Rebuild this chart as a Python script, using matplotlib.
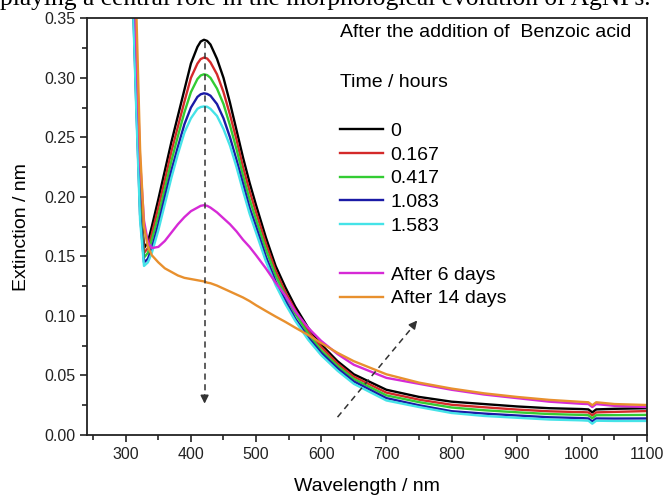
import matplotlib
matplotlib.use("Agg")
import matplotlib.pyplot as plt

plt.rcParams['font.family'] = ['Liberation Sans', 'DejaVu Sans']

# --- data ---
wavelength = [300, 310, 316, 322, 328, 334, 340, 350, 360, 370, 380, 390, 400, 410, 415, 420, 425,
              430, 440, 450, 460, 470, 480, 490, 500, 515, 530, 545, 560, 580, 600, 625,
              650, 700, 750, 800, 850, 900, 950, 1000, 1010, 1016, 1022, 1050, 1100]

ext_0h = [0.60, 0.40, 0.30, 0.205, 0.157, 0.162, 0.175, 0.198, 0.222, 0.246, 0.268, 0.290, 0.312, 0.326, 0.3305, 0.332, 0.331,
          0.328, 0.316, 0.300, 0.279, 0.256, 0.233, 0.212, 0.193, 0.166, 0.142, 0.124, 0.108, 0.090, 0.076, 0.062,
          0.051, 0.038, 0.032, 0.028, 0.026, 0.024, 0.0225, 0.0218, 0.0215, 0.019, 0.0215, 0.022, 0.0225]
ext_0167h = [0.595, 0.395, 0.293, 0.198, 0.153, 0.157, 0.169, 0.191, 0.214, 0.238, 0.259, 0.280, 0.300, 0.312, 0.3158, 0.317, 0.3162,
             0.313, 0.303, 0.288, 0.269, 0.248, 0.225, 0.205, 0.187, 0.161, 0.138, 0.120, 0.105, 0.087, 0.074, 0.060,
             0.049, 0.0356, 0.0297, 0.0254, 0.0233, 0.0214, 0.0199, 0.0192, 0.019, 0.0165, 0.019, 0.0194, 0.0201]
ext_0417h = [0.59, 0.39, 0.287, 0.192, 0.149, 0.153, 0.164, 0.184, 0.207, 0.230, 0.251, 0.271, 0.288, 0.299, 0.302, 0.303, 0.3023,
             0.300, 0.291, 0.278, 0.260, 0.240, 0.218, 0.198, 0.181, 0.156, 0.134, 0.117, 0.102, 0.085, 0.071, 0.058,
             0.047, 0.0333, 0.0276, 0.0231, 0.0208, 0.0191, 0.0176, 0.0169, 0.0166, 0.0141, 0.0166, 0.0167, 0.0169]
ext_1083h = [0.584, 0.384, 0.280, 0.185, 0.145, 0.148, 0.157, 0.177, 0.200, 0.222, 0.242, 0.261, 0.275, 0.284, 0.2862, 0.287, 0.2865,
             0.285, 0.278, 0.266, 0.250, 0.231, 0.211, 0.191, 0.175, 0.150, 0.129, 0.113, 0.098, 0.082, 0.069, 0.056,
             0.045, 0.031, 0.025, 0.020, 0.018, 0.0164, 0.0149, 0.0142, 0.0139, 0.0114, 0.0139, 0.0138, 0.0139]
ext_1583h = [0.58, 0.38, 0.275, 0.18, 0.142, 0.145, 0.153, 0.172, 0.194, 0.216, 0.236, 0.254, 0.266, 0.274, 0.2755, 0.276, 0.2757,
             0.274, 0.268, 0.257, 0.243, 0.225, 0.205, 0.186, 0.170, 0.146, 0.126, 0.110, 0.096, 0.080, 0.067, 0.054,
             0.043, 0.029, 0.0235, 0.0185, 0.016, 0.0145, 0.013, 0.0123, 0.012, 0.0095, 0.012, 0.0118, 0.0118]
ext_6d = [0.62, 0.43, 0.33, 0.23, 0.18, 0.162, 0.157, 0.158, 0.163, 0.170, 0.177, 0.183, 0.188, 0.191, 0.1925, 0.193, 0.1925,
          0.191, 0.187, 0.182, 0.177, 0.171, 0.164, 0.158, 0.151, 0.140, 0.128, 0.117, 0.104, 0.090, 0.079, 0.068,
          0.059, 0.048, 0.043, 0.038, 0.034, 0.031, 0.028, 0.0262, 0.026, 0.0235, 0.026, 0.0245, 0.0235]
ext_14d = [0.65, 0.45, 0.36, 0.24, 0.175, 0.158, 0.151, 0.145, 0.140, 0.137, 0.134, 0.132, 0.131, 0.130, 0.1295, 0.129, 0.128,
           0.1275, 0.1255, 0.123, 0.1205, 0.118, 0.1155, 0.1125, 0.109, 0.1042, 0.0995, 0.095, 0.0902, 0.084, 0.0772, 0.069,
           0.062, 0.051, 0.044, 0.039, 0.035, 0.032, 0.0295, 0.0278, 0.0275, 0.025, 0.0275, 0.026, 0.0252]

hours_labels = ['0', '0.167', '0.417', '1.083', '1.583']
days_labels = ['After 6 days', 'After 14 days']
hours_colors = ['#000000', '#d42a2a', '#33cc33', '#1a1aa6', '#45e3e8']
days_colors = ['#d62ad6', '#e8902e']

# --- figure ---
fig = plt.figure(figsize=(6.66, 4.95), dpi=100)
ax = fig.add_axes([0.1311, 0.1212, 0.8404, 0.8418])

hour_series = [ext_0h, ext_0167h, ext_0417h, ext_1083h, ext_1583h]
hour_lines = []
for ys, c in zip(hour_series, hours_colors):
    ln, = ax.plot(wavelength, ys, color=c, lw=1.7)
    hour_lines.append(ln)
day_lines = []
for ys, c in zip([ext_6d, ext_14d], days_colors):
    ln, = ax.plot(wavelength, ys, color=c, lw=1.7)
    day_lines.append(ln)

ax.set_xlim(241, 1100)
ax.set_ylim(0, 0.35)
ax.set_xticks(range(300, 1101, 100))
ax.set_xticks(range(250, 1100, 100), minor=True)
ax.set_yticks([0, 0.05, 0.10, 0.15, 0.20, 0.25, 0.30, 0.35])
ax.set_yticklabels(['0.00', '0.05', '0.10', '0.15', '0.20', '0.25', '0.30', '0.35'])
ax.set_yticks([0.025, 0.075, 0.125, 0.175, 0.225, 0.275, 0.325], minor=True)
ax.tick_params(which='both', direction='out', colors='#222222', labelsize=11.5, width=1.2)
ax.tick_params(which='major', length=5)
ax.tick_params(which='minor', length=3.5)
for s in ax.spines.values():
    s.set_linewidth(1.3)
    s.set_color('#222222')

ax.set_xlabel('Wavelength / nm', fontsize=14, labelpad=12)
ax.set_ylabel('Extinction / nm', fontsize=14, labelpad=10)

# dashed arrows
ax.plot([421, 421], [0.33, 0.03], ls=(0, (4, 3)), color='#333333', lw=1.1)
ax.annotate('', xy=(421, 0.024), xytext=(421, 0.036),
            arrowprops=dict(arrowstyle='-|>', color='#333333', lw=1.1, mutation_scale=12))
ax.plot([625, 742], [0.015, 0.092], ls=(0, (4, 3)), color='#333333', lw=1.1)
ax.annotate('', xy=(750, 0.098), xytext=(738, 0.090),
            arrowprops=dict(arrowstyle='-|>', color='#333333', lw=1.1, mutation_scale=12))

# texts and legends
ax.text(0.4515, 0.965, 'After the addition of  Benzoic acid', transform=ax.transAxes,
        fontsize=14, va='center', ha='left')
ax.text(0.4515, 0.845, 'Time / hours', transform=ax.transAxes,
        fontsize=14, va='center', ha='left')
leg1 = ax.legend(hour_lines, hours_labels, loc='upper left', bbox_to_anchor=(0.4515, 0.750),
                 frameon=False, fontsize=14, borderpad=0, borderaxespad=0, handlelength=2.2,
                 handletextpad=0.4, labelspacing=0.31)
ax.add_artist(leg1)
ax.legend(day_lines, days_labels, loc='upper left', bbox_to_anchor=(0.4515, 0.405),
          frameon=False, fontsize=14, borderpad=0, borderaxespad=0, handlelength=2.2,
          handletextpad=0.4, labelspacing=0.31)

# clipped caption line from the surrounding page
fig.text(0.0, 1 - 5.5 / 495, 'playing a central role in the morphological evolution of AgNPs.',
         family=['Liberation Serif', 'DejaVu Serif'], fontsize=18.4, va='baseline', ha='left')

fig.savefig('out.png', dpi=100)
